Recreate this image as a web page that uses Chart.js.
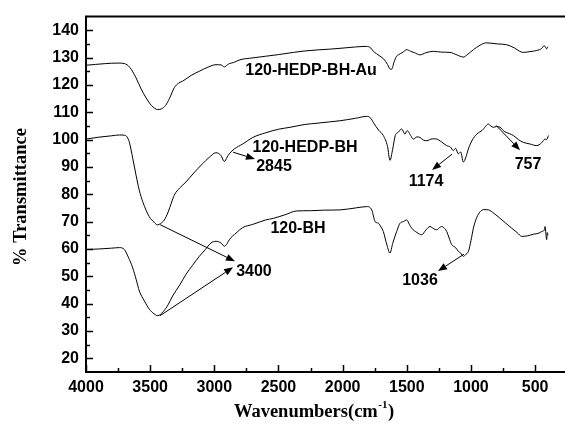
<!DOCTYPE html>
<html>
<head>
<meta charset="utf-8">
<script src="https://cdn.jsdelivr.net/npm/chart.js@4.4.1/dist/chart.umd.min.js"></script>
<style>
html,body{margin:0;padding:0;background:#fff;overflow:hidden;}
#wrap{width:565px;height:431px;position:relative;}
</style>
</head>
<body>
<div id="wrap"><canvas id="c" width="565" height="431"></canvas></div>
<script>
// ---- data (wavenumber cm-1, % transmittance) ----
const auWave = [4000,3850,3750,3700,3660,3610,3570,3532,3490,3440,3410,3380,3350,3312,3280,3246,3180,3117,3050,2987,2946,2922,2900,2883,2850,2800,2700,2600,2500,2384,2300,2200,2100,2020,1900,1812,1780,1761,1735,1708,1680,1650,1630,1617,1600,1580,1566,1530,1500,1470,1440,1397,1350,1293,1230,1163,1110,1059,1030,981,930,880,851,790,721,660,620,592,540,487,450,430,422,410,400];
const auT = [127.2,127.8,128.0,127.8,126.5,122.6,118.5,115.3,112.5,111.0,111.3,112.5,115.0,119.0,120.6,121.4,123.5,125.0,126.5,127.4,127.3,126.6,127.3,127.8,128.2,129.2,129.9,130.5,131.1,131.9,132.4,132.8,133.1,133.4,133.9,134.1,133.5,132.3,131.4,130.5,129.5,127.5,125.8,125.8,128.3,130.5,131.0,132.0,132.9,132.3,131.8,131.0,131.8,132.3,132.0,131.9,131.0,130.2,131.0,132.9,134.5,135.4,135.3,135.0,134.7,133.5,132.3,131.9,132.2,132.6,133.3,134.3,134.1,133.2,134.0];

const hedpWave = [4000,3900,3800,3740,3700,3680,3662,3635,3610,3585,3558,3530,3507,3470,3441,3420,3390,3360,3335,3312,3270,3221,3160,3091,3040,2987,2948,2922,2900,2883,2844,2779,2700,2600,2500,2410,2300,2200,2100,2020,1900,1812,1780,1761,1720,1683,1650,1631,1610,1590,1566,1540,1514,1500,1488,1470,1449,1420,1397,1370,1345,1300,1267,1230,1189,1160,1137,1120,1098,1080,1059,1040,1020,990,955,910,864,845,825,800,773,740,700,669,630,592,540,487,450,422,410,396];
const hedpT = [100.2,100.9,101.4,101.7,101.6,101.0,99.0,93.0,87.0,81.5,77.3,74.0,71.8,69.8,68.8,69.3,70.6,73.5,76.8,79.7,82.3,84.5,87.8,91.2,93.5,95.2,94.2,92.0,93.6,94.8,96.6,98.4,100.8,102.5,103.8,104.5,105.5,106.0,106.5,106.9,107.8,108.5,107.8,106.3,103.5,101.5,97.5,92.4,96.5,101.5,102.7,103.9,102.0,103.2,103.0,101.5,100.2,101.0,100.8,99.8,99.6,100.3,100.2,99.2,97.8,97.3,96.0,96.8,94.8,95.5,91.8,93.5,96.6,99.8,102.0,103.5,105.7,105.0,104.5,104.8,104.5,103.0,102.2,101.5,100.0,99.0,98.4,97.8,98.8,100.2,100.0,101.5];

const bhWave = [4000,3900,3800,3740,3701,3670,3636,3610,3584,3545,3507,3470,3441,3400,3360,3325,3270,3221,3170,3117,3070,3026,2987,2948,2922,2900,2883,2831,2779,2700,2600,2540,2450,2358,2250,2150,2020,1900,1812,1773,1747,1721,1700,1683,1655,1631,1610,1579,1553,1527,1501,1480,1462,1420,1384,1350,1319,1290,1267,1245,1228,1205,1189,1170,1150,1120,1098,1080,1059,1040,1020,1000,981,955,929,900,864,820,773,730,682,640,604,560,513,470,448,430,422,415,410,405,400];
const bhT = [59.8,60.0,60.3,60.5,59.8,57.0,53.1,49.0,44.6,41.0,38.0,36.3,35.6,37.0,39.6,42.8,46.8,50.7,54.0,57.3,59.8,62.2,62.8,62.2,61.0,62.0,63.4,65.8,67.8,69.0,70.6,71.2,72.5,73.9,74.0,74.2,74.3,75.0,75.5,74.3,70.0,69.4,68.0,66.4,61.5,58.5,62.0,66.4,69.4,70.0,70.6,69.0,67.6,66.0,65.2,67.0,68.2,67.4,67.0,67.8,68.2,67.5,66.4,64.0,61.6,60.5,59.1,58.5,57.3,58.0,59.1,63.0,67.6,71.5,73.6,74.4,74.3,73.0,71.2,69.5,67.6,66.0,64.6,64.8,65.4,65.8,66.4,66.8,68.2,65.0,63.4,66.0,65.0];

const xTicks = [4000,3500,3000,2500,2000,1500,1000,500];
const yTicks = [20,30,40,50,60,70,80,90,100,110,120,130,140];

// annotation labels: [text, wavenumber, transmittance]
const labels = [
  ["120-HEDP-BH-Au", 2246, 125.1],
  ["120-HEDP-BH", 2293, 97.2],
  ["2845", 2535, 90.3],
  ["1174", 1350, 84.5],
  ["757", 555, 90.7],
  ["120-BH", 2348, 67.5],
  ["1036", 1397, 48.3],
  ["3400", 2691, 51.9]
];
// arrows: [fromWave, fromT, toWave, toT]
const arrows = [
  [2854, 95.4, 2683, 92.9],
  [1147, 94.7, 1303, 88.9],
  [804, 105.2, 617, 96.1],
  [1054, 58.1, 1257, 51.9],
  [3423, 68.9, 2839, 55.5],
  [3423, 35.6, 2854, 53.3]
];

const toPts = (w, t) => w.map((x, i) => ({x: x, y: t[i]}));

const decor = {
  id: 'decor',
  afterDraw(chart) {
    const ctx = chart.ctx, xs = chart.scales.x, ys = chart.scales.y, a = chart.chartArea;
    ctx.save();
    // top frame line
    ctx.strokeStyle = '#000'; ctx.lineWidth = 2;
    ctx.beginPath(); ctx.moveTo(a.left - 1, a.top); ctx.lineTo(a.right, a.top); ctx.stroke();
    // inner ticks
    ctx.lineWidth = 1.5;
    ctx.beginPath();
    for (let v = 500; v <= 4000; v += 250) {
      const px = Math.round(xs.getPixelForValue(v)) + 0.5;
      const len = (v % 500 === 0) ? 7 : 4;
      ctx.moveTo(px, a.bottom); ctx.lineTo(px, a.bottom - len);
    }
    for (let v = 20; v <= 140; v += 5) {
      const py = Math.round(ys.getPixelForValue(v)) + 0.5;
      const len = (v % 10 === 0) ? 7 : 4;
      ctx.moveTo(a.left, py); ctx.lineTo(a.left + len, py);
    }
    ctx.stroke();
    // arrows
    ctx.lineWidth = 1;
    ctx.fillStyle = '#000';
    arrows.forEach(([w1, t1, w2, t2]) => {
      const x1 = xs.getPixelForValue(w1), y1 = ys.getPixelForValue(t1);
      const x2 = xs.getPixelForValue(w2), y2 = ys.getPixelForValue(t2);
      const ang = Math.atan2(y2 - y1, x2 - x1);
      const hl = 9, hw = 3.5;
      const bx = x2 - hl * Math.cos(ang), by = y2 - hl * Math.sin(ang);
      ctx.beginPath(); ctx.moveTo(x1, y1); ctx.lineTo(bx, by); ctx.stroke();
      ctx.beginPath();
      ctx.moveTo(x2, y2);
      ctx.lineTo(bx + hw * Math.sin(ang), by - hw * Math.cos(ang));
      ctx.lineTo(bx - hw * Math.sin(ang), by + hw * Math.cos(ang));
      ctx.closePath(); ctx.fill();
    });
    // labels
    ctx.font = 'bold 16px "Liberation Sans", Arial, sans-serif';
    ctx.textAlign = 'center'; ctx.textBaseline = 'middle';
    labels.forEach(([txt, w, t]) => {
      ctx.fillText(txt, xs.getPixelForValue(w), ys.getPixelForValue(t));
    });
    // axis titles
    ctx.font = 'bold 18.5px "Liberation Serif", "Times New Roman", serif';
    ctx.textBaseline = 'alphabetic';
    const main = 'Wavenumbers(cm';
    const sup = '-1';
    const tail = ')';
    ctx.textAlign = 'left';
    const wMain = ctx.measureText(main).width, wTail = ctx.measureText(tail).width;
    ctx.font = 'bold 11px "Liberation Serif", "Times New Roman", serif';
    const wSup = ctx.measureText(sup).width;
    const total = wMain + wSup + 1 + wTail;
    let sx = 314 - total / 2;
    const base = 417;
    ctx.font = 'bold 18.5px "Liberation Serif", "Times New Roman", serif';
    ctx.fillText(main, sx, base);
    ctx.font = 'bold 11px "Liberation Serif", "Times New Roman", serif';
    ctx.fillText(sup, sx + wMain + 0.5, base - 9);
    ctx.font = 'bold 18.5px "Liberation Serif", "Times New Roman", serif';
    ctx.fillText(tail, sx + wMain + wSup + 1, base);
    // y title
    ctx.save();
    ctx.translate(26, 197);
    ctx.rotate(-Math.PI / 2);
    ctx.textAlign = 'center';
    ctx.fillText('% Transmittance', 0, 0);
    ctx.restore();
    ctx.restore();
  }
};

const lineDs = (label, w, t) => ({
  label: label,
  data: toPts(w, t),
  borderColor: '#000',
  borderWidth: 1,
  pointRadius: 0,
  fill: false,
  tension: 0.35,
  cubicInterpolationMode: 'monotone'
});

new Chart(document.getElementById('c'), {
  type: 'line',
  data: {
    datasets: [
      lineDs('120-HEDP-BH-Au', auWave, auT),
      lineDs('120-HEDP-BH', hedpWave, hedpT),
      lineDs('120-BH', bhWave, bhT)
    ]
  },
  options: {
    responsive: false,
    animation: false,
    events: [],
    layout: {padding: {top: 14, right: 0, left: 0, bottom: 0}},
    plugins: {legend: {display: false}, tooltip: {enabled: false}},
    scales: {
      x: {
        type: 'linear',
        reverse: true,
        min: 267,
        max: 4000,
        afterBuildTicks: s => { s.ticks = xTicks.map(v => ({value: v})); },
        afterFit: s => { s.height = 59; },
        grid: {display: true, drawOnChartArea: false, drawTicks: false},
        border: {display: true, color: '#000', width: 2},
        ticks: {
          color: '#000',
          padding: 6,
          maxRotation: 0,
          autoSkip: false,
          callback: v => String(v),
          font: {family: '"Liberation Sans", Arial, sans-serif', size: 16, weight: 'bold'}
        }
      },
      y: {
        type: 'linear',
        min: 15,
        max: 145,
        afterBuildTicks: s => { s.ticks = yTicks.map(v => ({value: v})); },
        afterFit: s => { s.width = 86; },
        grid: {display: true, drawOnChartArea: false, drawTicks: false},
        border: {display: true, color: '#000', width: 2},
        ticks: {
          color: '#000',
          padding: 7,
          autoSkip: false,
          callback: v => String(v),
          font: {family: '"Liberation Sans", Arial, sans-serif', size: 16, weight: 'bold'}
        }
      }
    }
  },
  plugins: [decor]
});
</script>
</body>
</html>
